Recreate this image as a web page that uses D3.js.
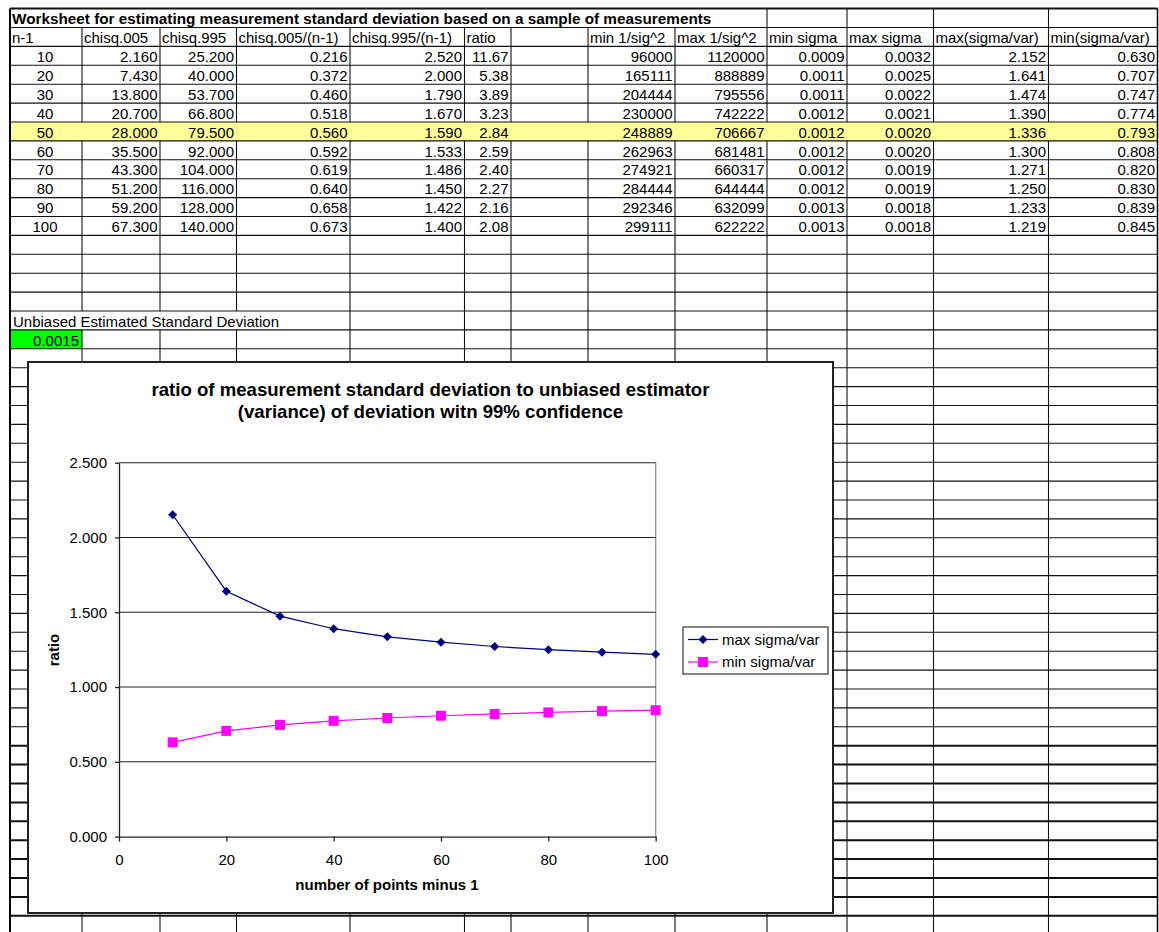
<!DOCTYPE html>
<html><head><meta charset="utf-8">
<script src="https://cdn.jsdelivr.net/npm/d3@7"></script>
<style>
html,body{margin:0;padding:0;background:#fff;}
svg{display:block;font-family:"Liberation Sans",Arial,Helvetica,sans-serif;}
</style></head><body>
<svg id="c" width="1159" height="932"></svg>
<script>
// ---------------- data ----------------
const sheetTitle = "Worksheet for estimating measurement standard deviation based on a sample of measurements";
const headers = ["n-1","chisq.005","chisq.995","chisq.005/(n-1)","chisq.995/(n-1)","ratio","","min 1/sig^2","max 1/sig^2","min sigma","max sigma","max(sigma/var)","min(sigma/var)"];
const nMinus1 = [10,20,30,40,50,60,70,80,90,100];
const chisq005 = [2.160,7.430,13.800,20.700,28.000,35.500,43.300,51.200,59.200,67.300];
const chisq995 = [25.200,40.000,53.700,66.800,79.500,92.000,104.000,116.000,128.000,140.000];
const chisq005n = [0.216,0.372,0.460,0.518,0.560,0.592,0.619,0.640,0.658,0.673];
const chisq995n = [2.520,2.000,1.790,1.670,1.590,1.533,1.486,1.450,1.422,1.400];
const ratioCol = [11.67,5.38,3.89,3.23,2.84,2.59,2.40,2.27,2.16,2.08];
const minInvSig2 = [96000,165111,204444,230000,248889,262963,274921,284444,292346,299111];
const maxInvSig2 = [1120000,888889,795556,742222,706667,681481,660317,644444,632099,622222];
const minSigma = [0.0009,0.0011,0.0011,0.0012,0.0012,0.0012,0.0012,0.0012,0.0013,0.0013];
const maxSigma = [0.0032,0.0025,0.0022,0.0021,0.0020,0.0020,0.0019,0.0019,0.0018,0.0018];
const maxSigmaVar = [2.152,1.641,1.474,1.390,1.336,1.300,1.271,1.250,1.233,1.219];
const minSigmaVar = [0.630,0.707,0.747,0.774,0.793,0.808,0.820,0.830,0.839,0.845];
const unbiasedLabel = "Unbiased Estimated Standard Deviation";
const unbiasedValue = 0.0015;
const highlightN = 50;

const chartTitle = ["ratio of measurement standard deviation to unbiased estimator","(variance) of deviation witn 99% confidence"];
const xAxisTitle = "number of points minus 1";
const yAxisTitle = "ratio";
const xTicks = [0,20,40,60,80,100];
const yTicks = [0,0.5,1,1.5,2,2.5];
const seriesNames = ["max sigma/var","min sigma/var"];

// ---------------- layout ----------------
const svg = d3.select("#c");
const FONT = 15;
const colX = [10,82,160,236.5,350,464.5,511,588,675,767,847,933.5,1048.5,1157.5];
const y0 = 8.6, rh = 18.9, nRows = 49;
const rowY = i => y0 + i*rh;
const hiRow = 2 + nMinus1.indexOf(highlightN);
const unbRow = 16, valRow = 17;

// fills
svg.append("rect").attr("x",colX[0]).attr("y",rowY(hiRow)).attr("width",colX[13]-colX[0]).attr("height",rh).attr("fill","#ffff99");
svg.append("rect").attr("x",colX[0]).attr("y",rowY(valRow)).attr("width",colX[1]-colX[0]).attr("height",rh).attr("fill","#00ff00");

const grid = svg.append("g");
// horizontal lines
for (let i=0;i<nRows;i++){
  const yy = rowY(i);
  grid.append("line").attr("x1",colX[0]).attr("x2",colX[13]).attr("y1",yy).attr("y2",yy)
    .attr("stroke","#111").attr("stroke-width", i===0 ? 2 : (yy>740 ? 2 : 1.1));
}
// vertical lines
for (let r=0;r<nRows;r++){
  const ya = rowY(r), yb = Math.min(rowY(r+1), 932);
  for (let j=1;j<13;j++){
    const xx = colX[j];
    if (r===0 && xx<712) continue;
    if (r===hiRow) continue;
    if (r===unbRow && xx<290) continue;
    grid.append("line").attr("x1",xx).attr("x2",xx).attr("y1",ya).attr("y2",yb)
      .attr("stroke","#111").attr("stroke-width",1.1);
  }
}
grid.append("line").attr("x1",colX[0]).attr("x2",colX[0]).attr("y1",y0).attr("y2",932).attr("stroke","#000").attr("stroke-width",2);
grid.append("line").attr("x1",colX[13]).attr("x2",colX[13]).attr("y1",y0).attr("y2",932).attr("stroke","#000").attr("stroke-width",1.5);

// texts
const txt = svg.append("g").attr("font-size",FONT).attr("fill","#000");
const base = r => rowY(r) + 15.6;
txt.append("text").attr("x",12).attr("y",base(0)).attr("font-weight","bold").attr("font-size",15.3).text(sheetTitle);
headers.forEach((h,j)=>{ if(h) txt.append("text").attr("x",colX[j]+2).attr("y",base(1)).text(h); });

const f3 = d3.format(".3f"), f2 = d3.format(".2f"), f4 = d3.format(".4f"), f0 = d3.format("d");
const cols = [
  {vals:nMinus1, fmt:f0, align:"center"},
  {vals:chisq005, fmt:f3},
  {vals:chisq995, fmt:f3},
  {vals:chisq005n, fmt:f3},
  {vals:chisq995n, fmt:f3},
  {vals:ratioCol, fmt:f2},
  null,
  {vals:minInvSig2, fmt:f0},
  {vals:maxInvSig2, fmt:f0},
  {vals:minSigma, fmt:f4},
  {vals:maxSigma, fmt:f4},
  {vals:maxSigmaVar, fmt:f3},
  {vals:minSigmaVar, fmt:f3}
];
nMinus1.forEach((n,i)=>{
  const r = 2+i;
  cols.forEach((c,j)=>{
    if(!c) return;
    const s = c.fmt(c.vals[i]);
    if (c.align==="center"){
      txt.append("text").attr("x",(colX[j]+colX[j+1])/2 - 1).attr("y",base(r)).attr("text-anchor","middle").text(s);
    } else {
      txt.append("text").attr("x",colX[j+1]-2.5).attr("y",base(r)).attr("text-anchor","end").text(s);
    }
  });
});
txt.append("text").attr("x",13).attr("y",base(unbRow)).text(unbiasedLabel);
txt.append("text").attr("x",colX[1]-3).attr("y",base(valRow)).attr("text-anchor","end").text(f4(unbiasedValue));

// ---------------- chart ----------------
const ch = svg.append("g");
ch.append("rect").attr("x",28).attr("y",362).attr("width",805).attr("height",551)
  .attr("fill","#fff").attr("stroke","#222").attr("stroke-width",2);

const x = d3.scaleLinear().domain([0,100]).range([119,655.7]);
const y = d3.scaleLinear().domain([0,2.5]).range([836.6,462.7]);

// title
chartTitle.forEach((t,i)=>{
  ch.append("text").attr("x",430.5).attr("y",396+i*21.5).attr("text-anchor","middle")
    .attr("font-weight","bold").attr("font-size",18.6).text(t);
});

// plot right border
ch.append("line").attr("x1",x(100)).attr("x2",x(100)).attr("y1",y(2.5)).attr("y2",y(0)).attr("stroke","#8c8c8c").attr("stroke-width",1.2);
// gridlines
ch.append("g").selectAll("line").data(yTicks.filter(d=>d>0)).join("line")
  .attr("x1",x(0)).attr("x2",x(100)).attr("y1",d=>y(d)).attr("y2",d=>y(d))
  .attr("stroke","#222").attr("stroke-width",1.1);

// axes
const yAxis = ch.append("g").attr("transform",`translate(${x(0)},0)`)
  .call(d3.axisLeft(y).tickValues(yTicks).tickFormat(d3.format(".3f")).tickSize(4).tickSizeOuter(0).tickPadding(8));
const xAxis = ch.append("g").attr("transform",`translate(0,${y(0)})`)
  .call(d3.axisBottom(x).tickValues(xTicks).tickFormat(d3.format("d")).tickSize(5).tickSizeOuter(0).tickPadding(13));
[yAxis,xAxis].forEach(a=>{
  a.attr("font-family",null).attr("font-size",15);
  a.selectAll("path,line").attr("stroke","#222").attr("stroke-width",1.3);
  a.selectAll("text").attr("fill","#000");
});

// axis titles
ch.append("text").attr("x",387).attr("y",890).attr("text-anchor","middle").attr("font-weight","bold").attr("font-size",15).text(xAxisTitle);
ch.append("text").attr("transform","translate(59,650) rotate(-90)").attr("text-anchor","middle").attr("font-weight","bold").attr("font-size",15).text(yAxisTitle);

// series
const series = [
  {name:seriesNames[0], vals:maxSigmaVar, color:"#000080", sym:d3.symbolDiamond2, size:52},
  {name:seriesNames[1], vals:minSigmaVar, color:"#ff00ff", sym:d3.symbolSquare, size:100}
];
const line = d3.line().x(d=>x(d[0])).y(d=>y(d[1]));
series.forEach(s=>{
  const pts = nMinus1.map((n,i)=>[n,s.vals[i]]);
  ch.append("path").attr("d",line(pts)).attr("fill","none").attr("stroke",s.color).attr("stroke-width",1.2);
  ch.append("g").selectAll("path").data(pts).join("path")
    .attr("transform",d=>`translate(${x(d[0])},${y(d[1])})`)
    .attr("d",d3.symbol().type(s.sym).size(s.size)).attr("fill",s.color);
});

// legend
const lg = ch.append("g");
lg.append("rect").attr("x",683).attr("y",627).attr("width",145).attr("height",47)
  .attr("fill","#fff").attr("stroke","#333").attr("stroke-width",1.2);
series.forEach((s,i)=>{
  const ly = 639.5 + i*22.5;
  lg.append("line").attr("x1",688).attr("x2",718).attr("y1",ly).attr("y2",ly).attr("stroke",s.color).attr("stroke-width",1.2);
  lg.append("path").attr("transform",`translate(703,${ly})`).attr("d",d3.symbol().type(s.sym).size(s.size)).attr("fill",s.color);
  lg.append("text").attr("x",722).attr("y",ly+5.3).attr("font-size",15).text(s.name);
});
</script>
</body></html>
